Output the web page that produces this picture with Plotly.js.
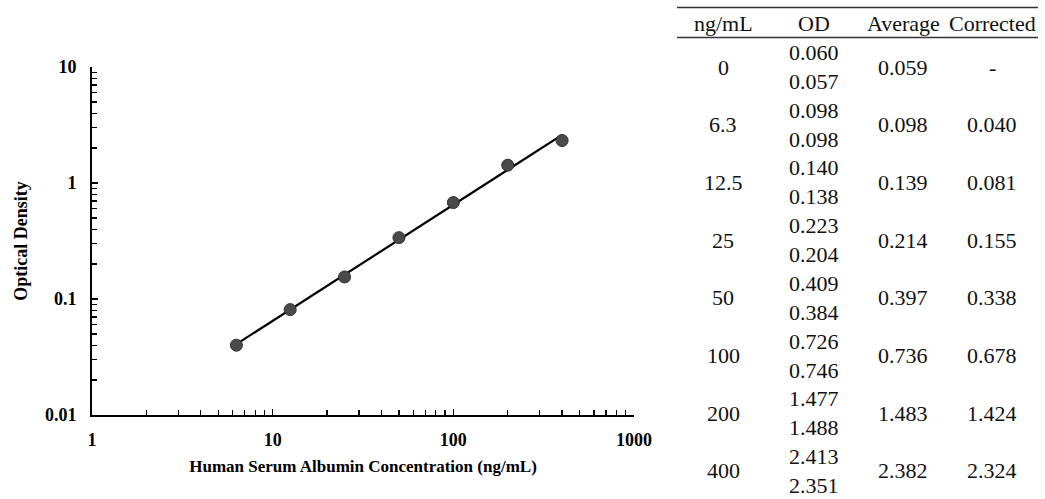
<!DOCTYPE html>
<html><head><meta charset="utf-8">
<script src="https://cdn.plot.ly/plotly-3.0.1.min.js"></script>
<style>html,body{margin:0;padding:0;background:#fff}#chart{width:1045px;height:499px}</style>
</head><body><div id="chart"></div>
<script>
// ---- data ----
const concentrations = [6.3, 12.5, 25, 50, 100, 200, 400];
const corrected = [0.040, 0.081, 0.155, 0.338, 0.678, 1.424, 2.324];
const tableConc = ["0", "6.3", "12.5", "25", "50", "100", "200", "400"];
const odRep1 = ["0.060", "0.098", "0.140", "0.223", "0.409", "0.726", "1.477", "2.413"];
const odRep2 = ["0.057", "0.098", "0.138", "0.204", "0.384", "0.746", "1.488", "2.351"];
const averages = ["0.059", "0.098", "0.139", "0.214", "0.397", "0.736", "1.483", "2.382"];
const correctedText = ["-", "0.040", "0.081", "0.155", "0.338", "0.678", "1.424", "2.324"];
const headers = ["ng/mL", "OD", "Average", "Corrected"];
const xTickVals = [1, 10, 100, 1000];
const yTickVals = [0.01, 0.1, 1, 10];
const yTickText = ["0.01", "0.1", "1", "10"];

// power-law fit (log-log least squares) from data
const lx = concentrations.map(Math.log10), ly = corrected.map(Math.log10);
const n = lx.length;
const mx = lx.reduce((a, b) => a + b, 0) / n, my = ly.reduce((a, b) => a + b, 0) / n;
let sxy = 0, sxx = 0;
for (let i = 0; i < n; i++) { sxy += (lx[i] - mx) * (ly[i] - my); sxx += (lx[i] - mx) ** 2; }
const slope = sxy / sxx, icpt = my - slope * mx;
const fitX = [concentrations[0], concentrations[n - 1]];
const fitY = fitX.map(x => Math.pow(10, icpt + slope * Math.log10(x)));

// ---- layout geometry ----
const W = 1045, H = 499;
const L = 92, R = 634, T = 67, B = 415;
const px = x => (x - L) / (R - L);
const py = y => (B - y) / (B - T);

const serif = "Liberation Serif, Times New Roman, serif";
const annotations = [];
const colX = [723, 814, 903, 992];
const tFont = {family: serif, size: 22, color: '#111'};
headers.forEach((h, i) => annotations.push({
  xref: 'paper', yref: 'paper', x: px(colX[i]), y: py(24), text: h, showarrow: false,
  xanchor: 'center', yanchor: 'middle', font: tFont
}));
const rowY0 = 67, rowStep = 57.7;
tableConc.forEach((c, r) => {
  const yc = rowY0 + r * rowStep;
  const mk = (cx, cy, t) => annotations.push({
    xref: 'paper', yref: 'paper', x: px(cx), y: py(cy), text: t, showarrow: false,
    xanchor: 'center', yanchor: 'middle', font: tFont
  });
  mk(colX[0], yc, c);
  mk(colX[1], yc - 14.5, odRep1[r]);
  mk(colX[1], yc + 14.5, odRep2[r]);
  mk(colX[2], yc, averages[r]);
  mk(colX[3], yc, correctedText[r]);
});
const shapes = [7.5, 37.5].map(y => ({
  type: 'line', xref: 'paper', yref: 'paper', x0: px(677), x1: px(1038), y0: py(y), y1: py(y),
  line: {color: '#333', width: 1.3}
}));

const traces = [
  {x: fitX, y: fitY, mode: 'lines', line: {color: '#000', width: 2.2}, hoverinfo: 'skip', showlegend: false},
  {x: concentrations, y: corrected, mode: 'markers', showlegend: false,
   marker: {size: 12, color: '#4a4a4a', line: {color: '#2e2e2e', width: 1}}}
];

const axisCommon = {
  type: 'log', showgrid: false, zeroline: false, showline: true, linecolor: '#000', linewidth: 2,
  ticks: 'inside', ticklen: 6, tickwidth: 1.5, tickcolor: '#000',
  tickfont: {family: serif, size: 18, color: '#000', weight: 'bold'},
  minor: {ticks: 'inside', ticklen: 5, tickwidth: 1.3, tickcolor: '#000', dtick: 'D1', showgrid: false}
};

const layout = {
  width: W, height: H, paper_bgcolor: '#fff', plot_bgcolor: '#fff',
  margin: {l: L, r: W - R, t: T, b: H - B, pad: 0},
  xaxis: Object.assign({}, axisCommon, {
    range: [0, 3], tickvals: xTickVals, ticktext: xTickVals.map(String), ticklabelstandoff: 7,
    title: {text: 'Human Serum Albumin Concentration (ng/mL)', standoff: 12,
            font: {family: serif, size: 17, color: '#000', weight: 'bold'}}
  }),
  yaxis: Object.assign({}, axisCommon, {
    range: [-2, 1], tickvals: yTickVals, ticktext: yTickText, ticklabelstandoff: 10,
    title: {text: 'Optical Density', standoff: 13,
            font: {family: serif, size: 18, color: '#000', weight: 'bold'}}
  }),
  annotations: annotations, shapes: shapes
};

Plotly.newPlot('chart', traces, layout, {displayModeBar: false, staticPlot: true});
</script></body></html>
